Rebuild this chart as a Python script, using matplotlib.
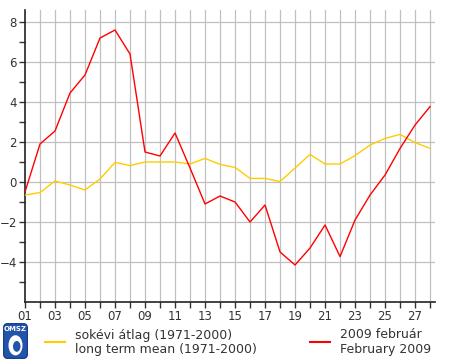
import numpy as np
import matplotlib
matplotlib.use('Agg')
import matplotlib.pyplot as plt
from matplotlib.patches import FancyBboxPatch

# daily values, February 2009
days = np.arange(1, 29)
feb2009 = [-0.5, 1.9, 2.55, 4.45, 5.35, 7.2, 7.6, 6.4, 1.5, 1.3,
           2.45, 0.7, -1.1, -0.7, -1.0, -2.0, -1.15, -3.5, -4.15, -3.3,
           -2.15, -3.73, -1.9, -0.65, 0.35, 1.68, 2.85, 3.77]
longterm = [-0.65, -0.53, 0.05, -0.15, -0.4, 0.15, 0.98, 0.82, 1.0, 1.0,
            1.0, 0.9, 1.18, 0.88, 0.73, 0.18, 0.18, 0.02, 0.7, 1.38,
            0.9, 0.9, 1.32, 1.85, 2.18, 2.38, 1.97, 1.68]
xlabels = ['%02d' % d for d in days]
legend_hu = ['sokévi átlag (1971-2000)', '2009 február']
legend_en = ['long term mean (1971-2000)', 'February 2009']

dpi = 100
W, H = 460, 362
fig = plt.figure(figsize=(W / dpi, H / dpi), dpi=dpi)
ax = fig.add_axes([25 / W, 1 - 302 / H, 410 / W, 292 / H])

ax.set_xlim(1, 28.33)
ax.set_ylim(-6, 8.6)

# grid
for d in days[1:]:
    ax.axvline(d, color='#c0c0c0', lw=0.9, zorder=1)
for v in range(-4, 9, 2):
    ax.axhline(v, color='#c0c0c0', lw=0.9, zorder=1)

ax.plot(days, longterm, color='#ffcc00', lw=1.0, zorder=3)
ax.plot(days, feb2009, color='#ff0000', lw=1.0, zorder=4)

ax.set_xticks(days)
ax.set_xticklabels([l if i % 2 == 0 else '' for i, l in enumerate(xlabels)])
ax.set_yticks(range(-4, 9, 2))
ax.set_yticks(range(-5, 9), minor=True)
ax.tick_params(axis='both', which='both', length=4, width=1, color='#333333',
               labelsize=8.5, labelcolor='#333333', pad=2)
for s in ['top', 'right']:
    ax.spines[s].set_visible(False)
for s in ['left', 'bottom']:
    ax.spines[s].set_color('#222222')
    ax.spines[s].set_linewidth(1.2)

# legend
fig.add_artist(plt.Line2D([45 / W, 65 / W], [1 - 342 / H] * 2, color='#ffcc00', lw=1.5))
fig.add_artist(plt.Line2D([310 / W, 330 / W], [1 - 342 / H] * 2, color='#ff0000', lw=1.5))
fig.text(75 / W, 1 - 335 / H, legend_hu[0], fontsize=9, color='#333333', va='center')
fig.text(75 / W, 1 - 350 / H, legend_en[0], fontsize=9, color='#333333', va='center')
fig.text(340 / W, 1 - 335 / H, legend_hu[1], fontsize=9, color='#333333', va='center')
fig.text(340 / W, 1 - 350 / H, legend_en[1], fontsize=9, color='#333333', va='center')

# OMSZ logo
lax = fig.add_axes([3 / W, 1 - 359 / H, 25 / W, 36 / H])
lax.axis('off')
lax.set_xlim(0, 1)
lax.set_ylim(0, 1)
lax.add_patch(FancyBboxPatch((0.02, 0.02), 0.96, 0.96, boxstyle='round,pad=0,rounding_size=0.15',
                             fc='#2255aa', ec='#1a3f88'))
lax.text(0.5, 0.82, 'OMSZ', color='white', fontsize=5, ha='center', va='center', weight='bold')
lax.add_patch(plt.Circle((0.5, 0.38), 0.28, fc='white', ec='none'))
lax.add_patch(plt.Circle((0.55, 0.35), 0.15, fc='#2255aa', ec='none'))

fig.savefig('out.png', dpi=dpi)
